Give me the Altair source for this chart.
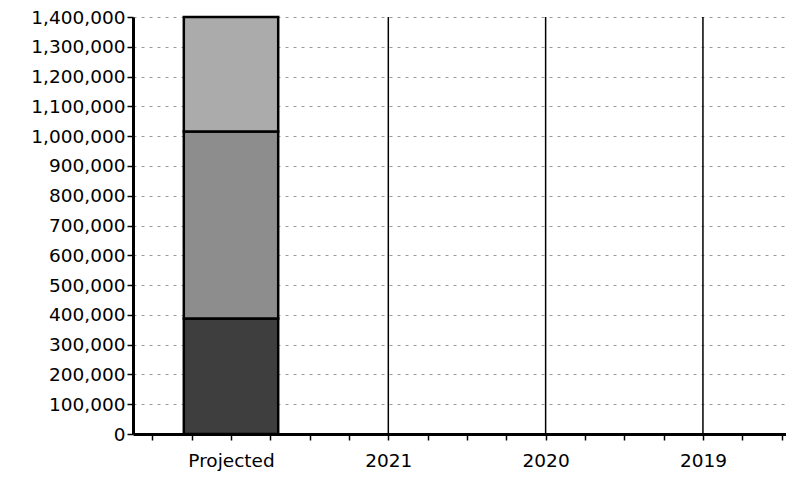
import json
import altair as alt
import pandas as pd

# ---- data ----
categories = ["Projected", "2021", "2020", "2019"]
series = ["Segment 1", "Segment 2", "Segment 3"]
series1 = [388000, 0, 0, 0]
series2 = [628000, 0, 0, 0]
series3 = [384000, 0, 0, 0]
colors = ["#3e3e3e", "#8d8d8d", "#ababab"]
y_ticks = list(range(0, 1400001, 100000))
x_ticks = [-0.5 + 0.25 * k for k in range(17)]

rows = []
for i, c in enumerate(categories):
    for order, (s, vals) in enumerate(zip(series, [series1, series2, series3])):
        rows.append({"category": c, "pos": i, "series": s, "order": order, "value": vals[i]})
df = pd.DataFrame(rows)
cat_df = pd.DataFrame({"category": categories, "pos": list(range(len(categories)))})

FONT = "DejaVu Sans"
label_expr = (
    f"(datum.value % 1 == 0 && datum.value >= 0) ? {json.dumps(categories)}[datum.value] : ''"
)

x_scale = alt.Scale(domain=[-0.623, 3.528], nice=False, zero=False)
y_scale = alt.Scale(domain=[0, 1400000], nice=False)

x_axis = alt.Axis(
    values=x_ticks, labelExpr=label_expr, title=None, grid=False,
    domainColor="black", domainWidth=3, tickColor="black", tickWidth=1.5, tickSize=6,
    labelFont=FONT, labelFontSize=18.5, labelColor="black", labelPadding=11,
    labelOverlap=False, labelFlush=False,
)
y_axis = alt.Axis(
    values=y_ticks, format=",d", title=None, grid=True,
    gridColor="#9a9a9a", gridDash=[3, 5], gridWidth=1,
    domainColor="black", domainWidth=3, tickColor="black", tickWidth=1.5, tickSize=6,
    labelFont=FONT, labelFontSize=18.5, labelColor="black", labelPadding=2,
)

rules = alt.Chart(cat_df).mark_rule(color="black", strokeWidth=1.5).encode(
    x=alt.X("pos:Q", scale=x_scale, axis=x_axis),
)

bars = (
    alt.Chart(df)
    .transform_filter("datum.value > 0")
    .transform_stack(stack="value", groupby=["category"], as_=["y0", "y1"],
                     sort=[alt.SortField("order", order="ascending")])
    .transform_calculate(xl="datum.pos - 0.3", xr="datum.pos + 0.3")
    .mark_bar(stroke="black", strokeWidth=2.5)
    .encode(
        x=alt.X("xl:Q", scale=x_scale, axis=x_axis),
        x2="xr:Q",
        y=alt.Y("y0:Q", scale=y_scale, axis=y_axis),
        y2="y1:Q",
        color=alt.Color("series:N", scale=alt.Scale(domain=series, range=colors), legend=None),
    )
)

chart = (
    alt.layer(rules, bars)
    .properties(
        width=653, height=417,
        autosize=alt.AutoSizeParams(type="none"),
        padding={"left": 125, "top": 9, "right": 0, "bottom": 45},
        background="white",
    )
    .configure_view(stroke=None)
)

chart.save("out.html", embed_options={"renderer": "svg", "actions": False})
